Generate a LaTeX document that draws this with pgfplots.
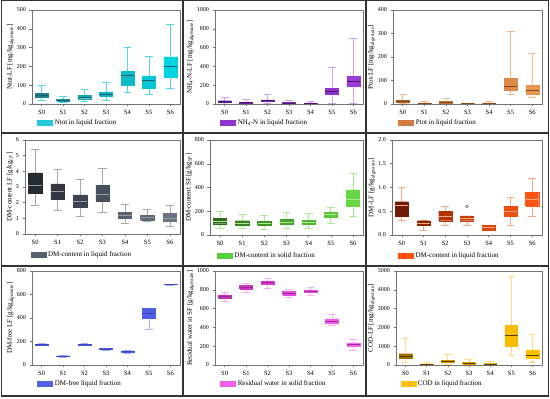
\documentclass[border=0pt]{standalone}
\usepackage{pgfplots}
\pgfplotsset{compat=1.18}
\usepackage{fontspec}
\setmainfont{Liberation Serif}

\newcommand{\fs}{\fontsize{6}{7}\selectfont}
\newcommand{\fl}{\fontsize{7}{8}\selectfont}
% \bx{pos}{lw}{lq}{med}{uq}{uw}{fill}{whisker}
\newcommand{\bx}[8]{%
 \pgfmathsetmacro\bxl{#1-0.3}\pgfmathsetmacro\bxr{#1+0.3}%
 \pgfmathsetmacro\bxcl{#1-0.18}\pgfmathsetmacro\bxcr{#1+0.18}%
 \edef\bxtmp{%
  \noexpand\addplot[draw=#8, line width=0.7pt, forget plot] coordinates {(#1,#2) (#1,#3)};
  \noexpand\addplot[draw=#8, line width=0.7pt, forget plot] coordinates {(#1,#5) (#1,#6)};
  \noexpand\addplot[draw=#8, line width=0.7pt, forget plot] coordinates {(\bxcl,#2) (\bxcr,#2)};
  \noexpand\addplot[draw=#8, line width=0.7pt, forget plot] coordinates {(\bxcl,#6) (\bxcr,#6)};
  \noexpand\addplot[fill=#7, draw=#7, line width=0.4pt, forget plot] coordinates {(\bxl,#3) (\bxr,#3) (\bxr,#5) (\bxl,#5) (\bxl,#3)};
  \noexpand\addplot[draw=medc, line width=0.8pt, forget plot] coordinates {(\bxl,#4) (\bxr,#4)};
 }\bxtmp}

\pgfplotsset{
  panel/.style={
    scale only axis, anchor=south west,
    xmin=-0.45, xmax=6.45, ymin=0,
    xtick={0,1,2,3,4,5,6}, xticklabels={S0,S1,S2,S3,S4,S5,S6},
    tick align=outside, tick pos=left, major tick length=2.5pt,
    axis line style={draw=black!55, line width=0.5pt},
    every tick/.style={draw=black!55, line width=0.5pt},
    tick label style={font=\fs},
    xticklabel style={font=\fontsize{6.5}{7}\selectfont},
    label style={font=\fl},
    ylabel style={yshift=-4pt},
    /pgf/number format/assume math mode=true,
    yticklabel style={/pgf/number format/1000 sep={}},
    legend style={at={(0.035,-0.2)}, anchor=west, draw=none, fill=none, font=\fl, inner sep=0pt},
    legend image code/.code={\draw[##1] (0pt,-2.5pt) rectangle (15pt,2.5pt);},
  }
}

\begin{document}
\begin{tikzpicture}
\useasboundingbox (0,0) rectangle (550pt,399pt);
\draw[black!80, line width=1.4pt] (1.5pt,3pt) rectangle (548.5pt,398.3pt);
\draw[black!80, line width=1.4pt] (183pt,3pt) -- (183pt,398.3pt);
\draw[black!80, line width=1.4pt] (366pt,3pt) -- (366pt,398.3pt);
\draw[black!80, line width=1.4pt] (1.5pt,266pt) -- (548.5pt,266pt);
\draw[black!80, line width=1.4pt] (1.5pt,133pt) -- (548.5pt,133pt);

% ---------- Panel 1 : Ntot ----------
\definecolor{medc}{HTML}{17606A}
\definecolor{L1}{HTML}{20C8D8}
\definecolor{w}{HTML}{55D8E6}
\definecolor{a0}{HTML}{1E7E8A}\definecolor{a1}{HTML}{1C95A3}\definecolor{a2}{HTML}{17A6B5}
\definecolor{a3}{HTML}{12B3C2}\definecolor{a4}{HTML}{0DBCCB}\definecolor{a5}{HTML}{08C6D5}\definecolor{a6}{HTML}{00D4E2}
\begin{axis}[panel, at={(32pt,295pt)}, width=148pt, height=94pt, ymax=500, ytick={0,100,200,300,400,500},
  ylabel={Ntot-LF [mg/kg\textsubscript{\textit{digestate}}]}]
\addlegendimage{fill=L1, draw=L1}
\addlegendentry{Ntot in liquid fraction}
\bx{0}{20}{35}{45}{55}{100}{a0}{w}
\bx{1}{8}{15}{20}{25}{40}{a1}{w}
\bx{2}{15}{28}{35}{45}{80}{a2}{w}
\bx{3}{22}{40}{50}{65}{115}{a3}{w}
\bx{4}{60}{100}{150}{175}{300}{a4}{w}
\bx{5}{50}{85}{125}{150}{252}{a5}{w}
\bx{6}{85}{140}{200}{250}{425}{a6}{w}
\end{axis}

% ---------- Panel 2 : NH4-N ----------
\definecolor{medc}{HTML}{4A1470}
\definecolor{L2}{HTML}{8E34CA}
\definecolor{w}{HTML}{CCA4EC}
\definecolor{a0}{HTML}{5A1E8A}\definecolor{a1}{HTML}{6A2498}\definecolor{a2}{HTML}{7028A8}
\definecolor{a3}{HTML}{7A2CB5}\definecolor{a4}{HTML}{8430C0}\definecolor{a5}{HTML}{8E34CA}\definecolor{a6}{HTML}{9A3CD6}
\begin{axis}[panel, at={(215pt,295pt)}, width=148pt, height=94pt, ymax=1000, ytick={0,200,400,600,800,1000},
  ylabel={NH\textsubscript{4}-N-LF [mg/kg\textsubscript{\textit{digestate}}]}]
\addlegendimage{fill=L2, draw=L2}
\addlegendentry{NH\textsubscript{4}-N in liquid fraction}
\bx{0}{0}{15}{25}{35}{70}{a0}{w}
\bx{1}{0}{5}{12}{20}{45}{a1}{w}
\bx{2}{5}{25}{35}{45}{105}{a2}{w}
\bx{3}{0}{5}{10}{15}{35}{a3}{w}
\bx{4}{0}{3}{8}{12}{25}{a4}{w}
\bx{5}{5}{100}{130}{165}{385}{a5}{w}
\bx{6}{10}{185}{240}{295}{700}{a6}{w}
\end{axis}

% ---------- Panel 3 : Ptot ----------
\definecolor{medc}{HTML}{8A4818}
\definecolor{L3}{HTML}{D07C40}
\definecolor{w}{HTML}{F2BC8E}
\definecolor{a0}{HTML}{A8602A}\definecolor{a1}{HTML}{B56A30}\definecolor{a2}{HTML}{C07236}
\definecolor{a3}{HTML}{C87A3C}\definecolor{a4}{HTML}{D28242}\definecolor{a5}{HTML}{DC8A48}\definecolor{a6}{HTML}{E8964E}
\begin{axis}[panel, at={(393pt,295pt)}, width=149pt, height=94pt, ymax=400, ytick={0,100,200,300,400},
  ylabel={Ptot-LF [mg/kg\textsubscript{\textit{digestate}}]}]
\addlegendimage{fill=L3, draw=L3}
\addlegendentry{Ptot in liquid fraction}
\bx{0}{3}{8}{12}{16}{42}{a0}{w}
\bx{1}{0}{2}{3}{5}{10}{a1}{w}
\bx{2}{1}{4}{7}{10}{22}{a2}{w}
\bx{3}{0}{1}{1.5}{2}{4}{a3}{w}
\bx{4}{0}{2}{3}{5}{10}{a4}{w}
\bx{5}{40}{60}{75}{110}{310}{a5}{w}
\bx{6}{28}{42}{58}{78}{215}{a6}{w}
\end{axis}

% ---------- Panel 4 : DM-content LF ----------
\definecolor{medc}{HTML}{9A9A9A}
\definecolor{L4}{HTML}{56606E}
\definecolor{w}{HTML}{A8A8A8}
\definecolor{a0}{HTML}{262A31}\definecolor{a1}{HTML}{323741}\definecolor{a2}{HTML}{3E4450}
\definecolor{a3}{HTML}{48505D}\definecolor{a4}{HTML}{56606E}\definecolor{a5}{HTML}{5F6A79}\definecolor{a6}{HTML}{687484}
\begin{axis}[panel, at={(25pt,165pt)}, width=155pt, height=94pt, ymax=6, ytick={0,1,2,3,4,5,6},
  legend style={at={(0.035,-0.22)}},
  ylabel={DM-content LF [g/kg\textsubscript{\textit{LF}}]}]
\addlegendimage{fill=L4, draw=L4}
\addlegendentry{DM-content in liquid fraction}
\bx{0}{1.8}{2.6}{3.1}{3.9}{5.4}{a0}{w}
\bx{1}{1.5}{2.2}{2.75}{3.2}{4.1}{a1}{w}
\bx{2}{1.1}{1.7}{2.05}{2.5}{3.5}{a2}{w}
\bx{3}{1.4}{2.1}{2.5}{3.1}{4.2}{a3}{w}
\bx{4}{0.7}{1.0}{1.2}{1.4}{1.9}{a4}{w}
\bx{5}{0.8}{0.9}{1.05}{1.2}{1.6}{a5}{w}
\bx{6}{0.5}{0.8}{1.0}{1.3}{1.8}{a6}{w}
\end{axis}

% ---------- Panel 5 : DM-content SF ----------
\definecolor{medc}{HTML}{AEE696}
\definecolor{L5}{HTML}{58CF3C}
\definecolor{w}{HTML}{AEE696}
\definecolor{a0}{HTML}{2E6B18}\definecolor{a1}{HTML}{37801E}\definecolor{a2}{HTML}{3E9224}
\definecolor{a3}{HTML}{46A42A}\definecolor{a4}{HTML}{4EB530}\definecolor{a5}{HTML}{58C738}\definecolor{a6}{HTML}{66D845}
\begin{axis}[panel, at={(210pt,164pt)}, width=153pt, height=95pt, ymax=800, ytick={0,200,400,600,800},
  legend style={at={(0.045,-0.22)}},
  ylabel={DM-content SF [g/kg\textsubscript{\textit{SF}}]}]
\addlegendimage{fill=L5, draw=L5}
\addlegendentry{DM-content in solid fraction}
\bx{0}{60}{95}{115}{140}{195}{a0}{w}
\bx{1}{55}{85}{100}{120}{175}{a1}{w}
\bx{2}{50}{80}{95}{115}{165}{a2}{w}
\bx{3}{55}{90}{110}{130}{190}{a3}{w}
\bx{4}{55}{90}{105}{125}{185}{a4}{w}
\bx{5}{95}{150}{170}{195}{235}{a5}{w}
\bx{6}{155}{240}{300}{380}{520}{a6}{w}
\end{axis}

% ---------- Panel 6 : DM-LF ----------
\definecolor{medc}{HTML}{F6A888}
\definecolor{L6}{HTML}{FF5010}
\definecolor{w}{HTML}{F6A888}
\definecolor{a0}{HTML}{6E1A06}\definecolor{a1}{HTML}{8E2606}\definecolor{a2}{HTML}{B03408}
\definecolor{a3}{HTML}{C83E0A}\definecolor{a4}{HTML}{DD460C}\definecolor{a5}{HTML}{F04E10}\definecolor{a6}{HTML}{FF5414}
\begin{axis}[panel, at={(392pt,164pt)}, width=150pt, height=95pt, ymax=2, ytick={0,0.5,1,1.5,2},
  yticklabel style={/pgf/number format/fixed, /pgf/number format/fixed zerofill, /pgf/number format/precision=1},
  legend style={at={(0.04,-0.22)}},
  ylabel={DM-LF [g/kg\textsubscript{\textit{digestate}}]}]
\addlegendimage{fill=L6, draw=L6}
\addlegendentry{DM-content in liquid fraction}
\bx{0}{0.3}{0.4}{0.62}{0.7}{1.0}{a0}{w}
\bx{1}{0.1}{0.2}{0.25}{0.3}{0.3}{a1}{w}
\bx{2}{0.2}{0.3}{0.4}{0.5}{0.6}{a2}{w}
\bx{3}{0.2}{0.3}{0.35}{0.4}{0.4}{a3}{w}
\bx{4}{0.1}{0.1}{0.15}{0.2}{0.2}{a4}{w}
\bx{5}{0.2}{0.4}{0.5}{0.6}{0.8}{a5}{w}
\bx{6}{0.4}{0.6}{0.75}{0.9}{1.2}{a6}{w}
\addplot[only marks, mark=o, mark size=1.4pt, draw=black!60, line width=0.5pt, forget plot] coordinates {(3,0.6)};
\end{axis}

% ---------- Panel 7 : DM-free LF ----------
\definecolor{medc}{HTML}{3A48C0}
\definecolor{L7}{HTML}{5060E0}
\definecolor{w}{HTML}{A6AEF2}
\definecolor{a0}{HTML}{4452D8}\definecolor{a1}{HTML}{4856DA}\definecolor{a2}{HTML}{4A58DC}
\definecolor{a3}{HTML}{4C5ADE}\definecolor{a4}{HTML}{4E5CE0}\definecolor{a5}{HTML}{5060E2}\definecolor{a6}{HTML}{5464E6}
\begin{axis}[panel, at={(32pt,34pt)}, width=148pt, height=94pt, ymax=800, ytick={0,200,400,600,800},
  ylabel={DM-free LF [g/kg\textsubscript{\textit{digestate}}]}]
\addlegendimage{fill=L7, draw=L7}
\addlegendentry{DM-free liquid fraction}
\bx{0}{165}{170}{175}{178}{180}{a0}{w}
\bx{1}{68}{72}{75}{78}{80}{a1}{w}
\bx{2}{165}{170}{175}{178}{180}{a2}{w}
\bx{3}{125}{132}{137}{140}{145}{a3}{w}
\bx{4}{100}{110}{115}{120}{125}{a4}{w}
\bx{5}{300}{395}{440}{485}{485}{a5}{w}
\bx{6}{682}{684}{686}{688}{690}{a6}{w}
\end{axis}

% ---------- Panel 8 : Residual water ----------
\definecolor{medc}{HTML}{A02898}
\definecolor{L8}{HTML}{F060E8}
\definecolor{w}{HTML}{F8B0F4}
\definecolor{a0}{HTML}{C030B8}\definecolor{a1}{HTML}{CC38C4}\definecolor{a2}{HTML}{D840D0}
\definecolor{a3}{HTML}{E448DC}\definecolor{a4}{HTML}{EC50E4}\definecolor{a5}{HTML}{F458EC}\definecolor{a6}{HTML}{FA60F2}
\begin{axis}[panel, at={(215pt,34pt)}, width=148pt, height=94pt, ymax=1000, ytick={0,200,400,600,800,1000},
  ylabel={Residual water in SF [g/kg\textsubscript{\textit{digestate}}]}]
\addlegendimage{fill=L8, draw=L8}
\addlegendentry{Residual water in solid fraction}
\bx{0}{680}{710}{725}{745}{775}{a0}{w}
\bx{1}{770}{810}{825}{845}{870}{a1}{w}
\bx{2}{820}{860}{875}{895}{920}{a2}{w}
\bx{3}{720}{745}{760}{780}{810}{a3}{w}
\bx{4}{740}{770}{785}{800}{830}{a4}{w}
\bx{5}{420}{440}{465}{490}{540}{a5}{w}
\bx{6}{160}{195}{215}{235}{270}{a6}{w}
\end{axis}

% ---------- Panel 9 : COD ----------
\definecolor{medc}{HTML}{5A4000}
\definecolor{L9}{HTML}{FFC010}
\definecolor{w}{HTML}{FFDC80}
\definecolor{a0}{HTML}{9A6E00}\definecolor{a1}{HTML}{C08C00}\definecolor{a2}{HTML}{D09800}
\definecolor{a3}{HTML}{E0A400}\definecolor{a4}{HTML}{ECB000}\definecolor{a5}{HTML}{F8BC00}\definecolor{a6}{HTML}{FFC000}
\begin{axis}[panel, at={(396pt,34pt)}, width=146pt, height=94pt, ymax=5000, ytick={0,1000,2000,3000,4000,5000},
  legend style={at={(0.03,-0.2)}},
  ylabel={COD-LF [mg/kg\textsubscript{\textit{digestate}}]}]
\addlegendimage{fill=L9, draw=L9}
\addlegendentry{COD in liquid fraction}
\bx{0}{150}{350}{450}{600}{1400}{a0}{w}
\bx{1}{0}{20}{40}{60}{150}{a1}{w}
\bx{2}{60}{130}{180}{250}{550}{a2}{w}
\bx{3}{10}{40}{80}{150}{300}{a3}{w}
\bx{4}{10}{30}{50}{80}{180}{a4}{w}
\bx{5}{500}{1000}{1600}{2100}{4700}{a5}{w}
\bx{6}{150}{350}{500}{800}{1650}{a6}{w}
\end{axis}
\end{tikzpicture}
\end{document}
